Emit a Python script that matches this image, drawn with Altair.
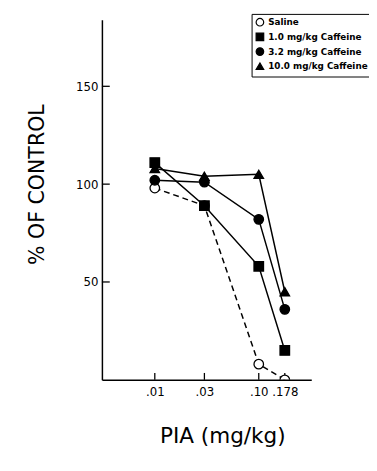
import altair as alt
import pandas as pd

# ---- data ----
doses = [0.01, 0.03, 0.10, 0.178]
dose_labels = [".01", ".03", ".10", ".178"]
series = ["Saline", "1.0 mg/kg Caffeine", "3.2 mg/kg Caffeine", "10.0 mg/kg Caffeine"]
saline = [98, 89, 8, 0]
caf_1 = [111, 89, 58, 15]
caf_3 = [102, 101, 82, 36]
caf_10 = [108, 104, 105, 45]
y_ticks = [50, 100, 150]

values = [saline, caf_1, caf_3, caf_10]
rows = []
for s, vals in zip(series, values):
    for d, v in zip(doses, vals):
        rows.append({"series": s, "dose": d, "pct": v})
df = pd.DataFrame(rows)

W, H = 214, 368
FONT = "DejaVu Sans"

xs = alt.Scale(type="log", domain=[0.0031, 0.32], nice=False)
ys = alt.Scale(domain=[0, 184], nice=False, zero=False)

label_expr = " : ".join(
    f"datum.value == {d} ? '{l}'" for d, l in zip(doses, dose_labels)
) + " : ''"

xaxis = alt.Axis(
    values=doses, labelExpr=label_expr, title="PIA (mg/kg)", grid=False,
    tickSize=0, labelPadding=7, labelFontSize=12, labelFont=FONT, labelColor="black",
    domainColor="black", domainWidth=1.5, titleFont=FONT, titleFontSize=22,
    titleFontWeight="normal", titleColor="black", titleX=123, titleY=57,
    titleAlign="center", titleBaseline="middle", zindex=1,
)
yaxis = alt.Axis(
    values=y_ticks, title="% OF CONTROL", grid=False, tickSize=0, labelPadding=4,
    labelFontSize=12, labelFont=FONT, labelColor="black", domainColor="black",
    domainWidth=1.5, titleFont=FONT, titleFontSize=21, titleFontWeight="normal",
    titleColor="black", titleX=-66, titleY=168, titleAlign="center",
    titleBaseline="middle", titleAngle=270, zindex=1,
)

legend = alt.Legend(
    orient="none", legendX=153, legendY=-6, title=None, strokeColor="black",
    fillColor="white", padding=4, labelFont=FONT, labelFontSize=9,
    labelFontWeight="bold", labelColor="black", symbolSize=60, rowPadding=2,
    labelOffset=4, symbolStrokeColor="black", symbolStrokeWidth=1.2,
    symbolOpacity=1,
)

ytick_df = pd.DataFrame({"pct": y_ticks})
xtick_df = pd.DataFrame({"dose": doses})

yticks = alt.Chart(ytick_df).mark_rule(color="black", strokeWidth=1.3).encode(
    y=alt.Y("pct:Q", scale=ys, axis=yaxis),
    x=alt.value(0),
    x2=alt.value(8),
)
xticks = alt.Chart(xtick_df).mark_rule(color="black", strokeWidth=1.3).encode(
    x=alt.X("dose:Q", scale=xs, axis=xaxis),
    y=alt.value(H),
    y2=alt.value(H - 7),
)

saline_line = alt.Chart(df).transform_filter(
    alt.datum.series == series[0]
).mark_line(color="black", strokeWidth=1.5, strokeDash=[6, 4]).encode(
    x=alt.X("dose:Q", scale=xs, axis=xaxis),
    y=alt.Y("pct:Q", scale=ys, axis=yaxis),
)
caf_lines = alt.Chart(df).transform_filter(
    alt.datum.series != series[0]
).mark_line(color="black", strokeWidth=1.5).encode(
    x=alt.X("dose:Q", scale=xs, axis=xaxis),
    y=alt.Y("pct:Q", scale=ys, axis=yaxis),
    detail="series:N",
)

points = alt.Chart(df).mark_point(
    filled=False, strokeWidth=1.3, size=95, clip=True, opacity=1
).encode(
    x=alt.X("dose:Q", scale=xs, axis=xaxis),
    y=alt.Y("pct:Q", scale=ys, axis=yaxis),
    shape=alt.Shape(
        "series:N",
        scale=alt.Scale(domain=series, range=["circle", "square", "circle", "triangle-up"]),
        legend=legend,
    ),
    fill=alt.Fill(
        "series:N",
        scale=alt.Scale(domain=series, range=["white", "black", "black", "black"]),
        legend=legend,
    ),
    stroke=alt.Stroke(
        "series:N",
        scale=alt.Scale(domain=series, range=["black", "black", "black", "black"]),
        legend=legend,
    ),
)

chart = alt.layer(yticks, xticks, saline_line, caf_lines, points).properties(
    width=W,
    height=H,
    autosize=alt.AutoSizeParams(type="none"),
    padding={"left": 96, "top": 7, "right": 59, "bottom": 80},
    background="white",
).configure_view(stroke=None)

chart.save("out.html", embed_options={"renderer": "svg", "actions": False})
